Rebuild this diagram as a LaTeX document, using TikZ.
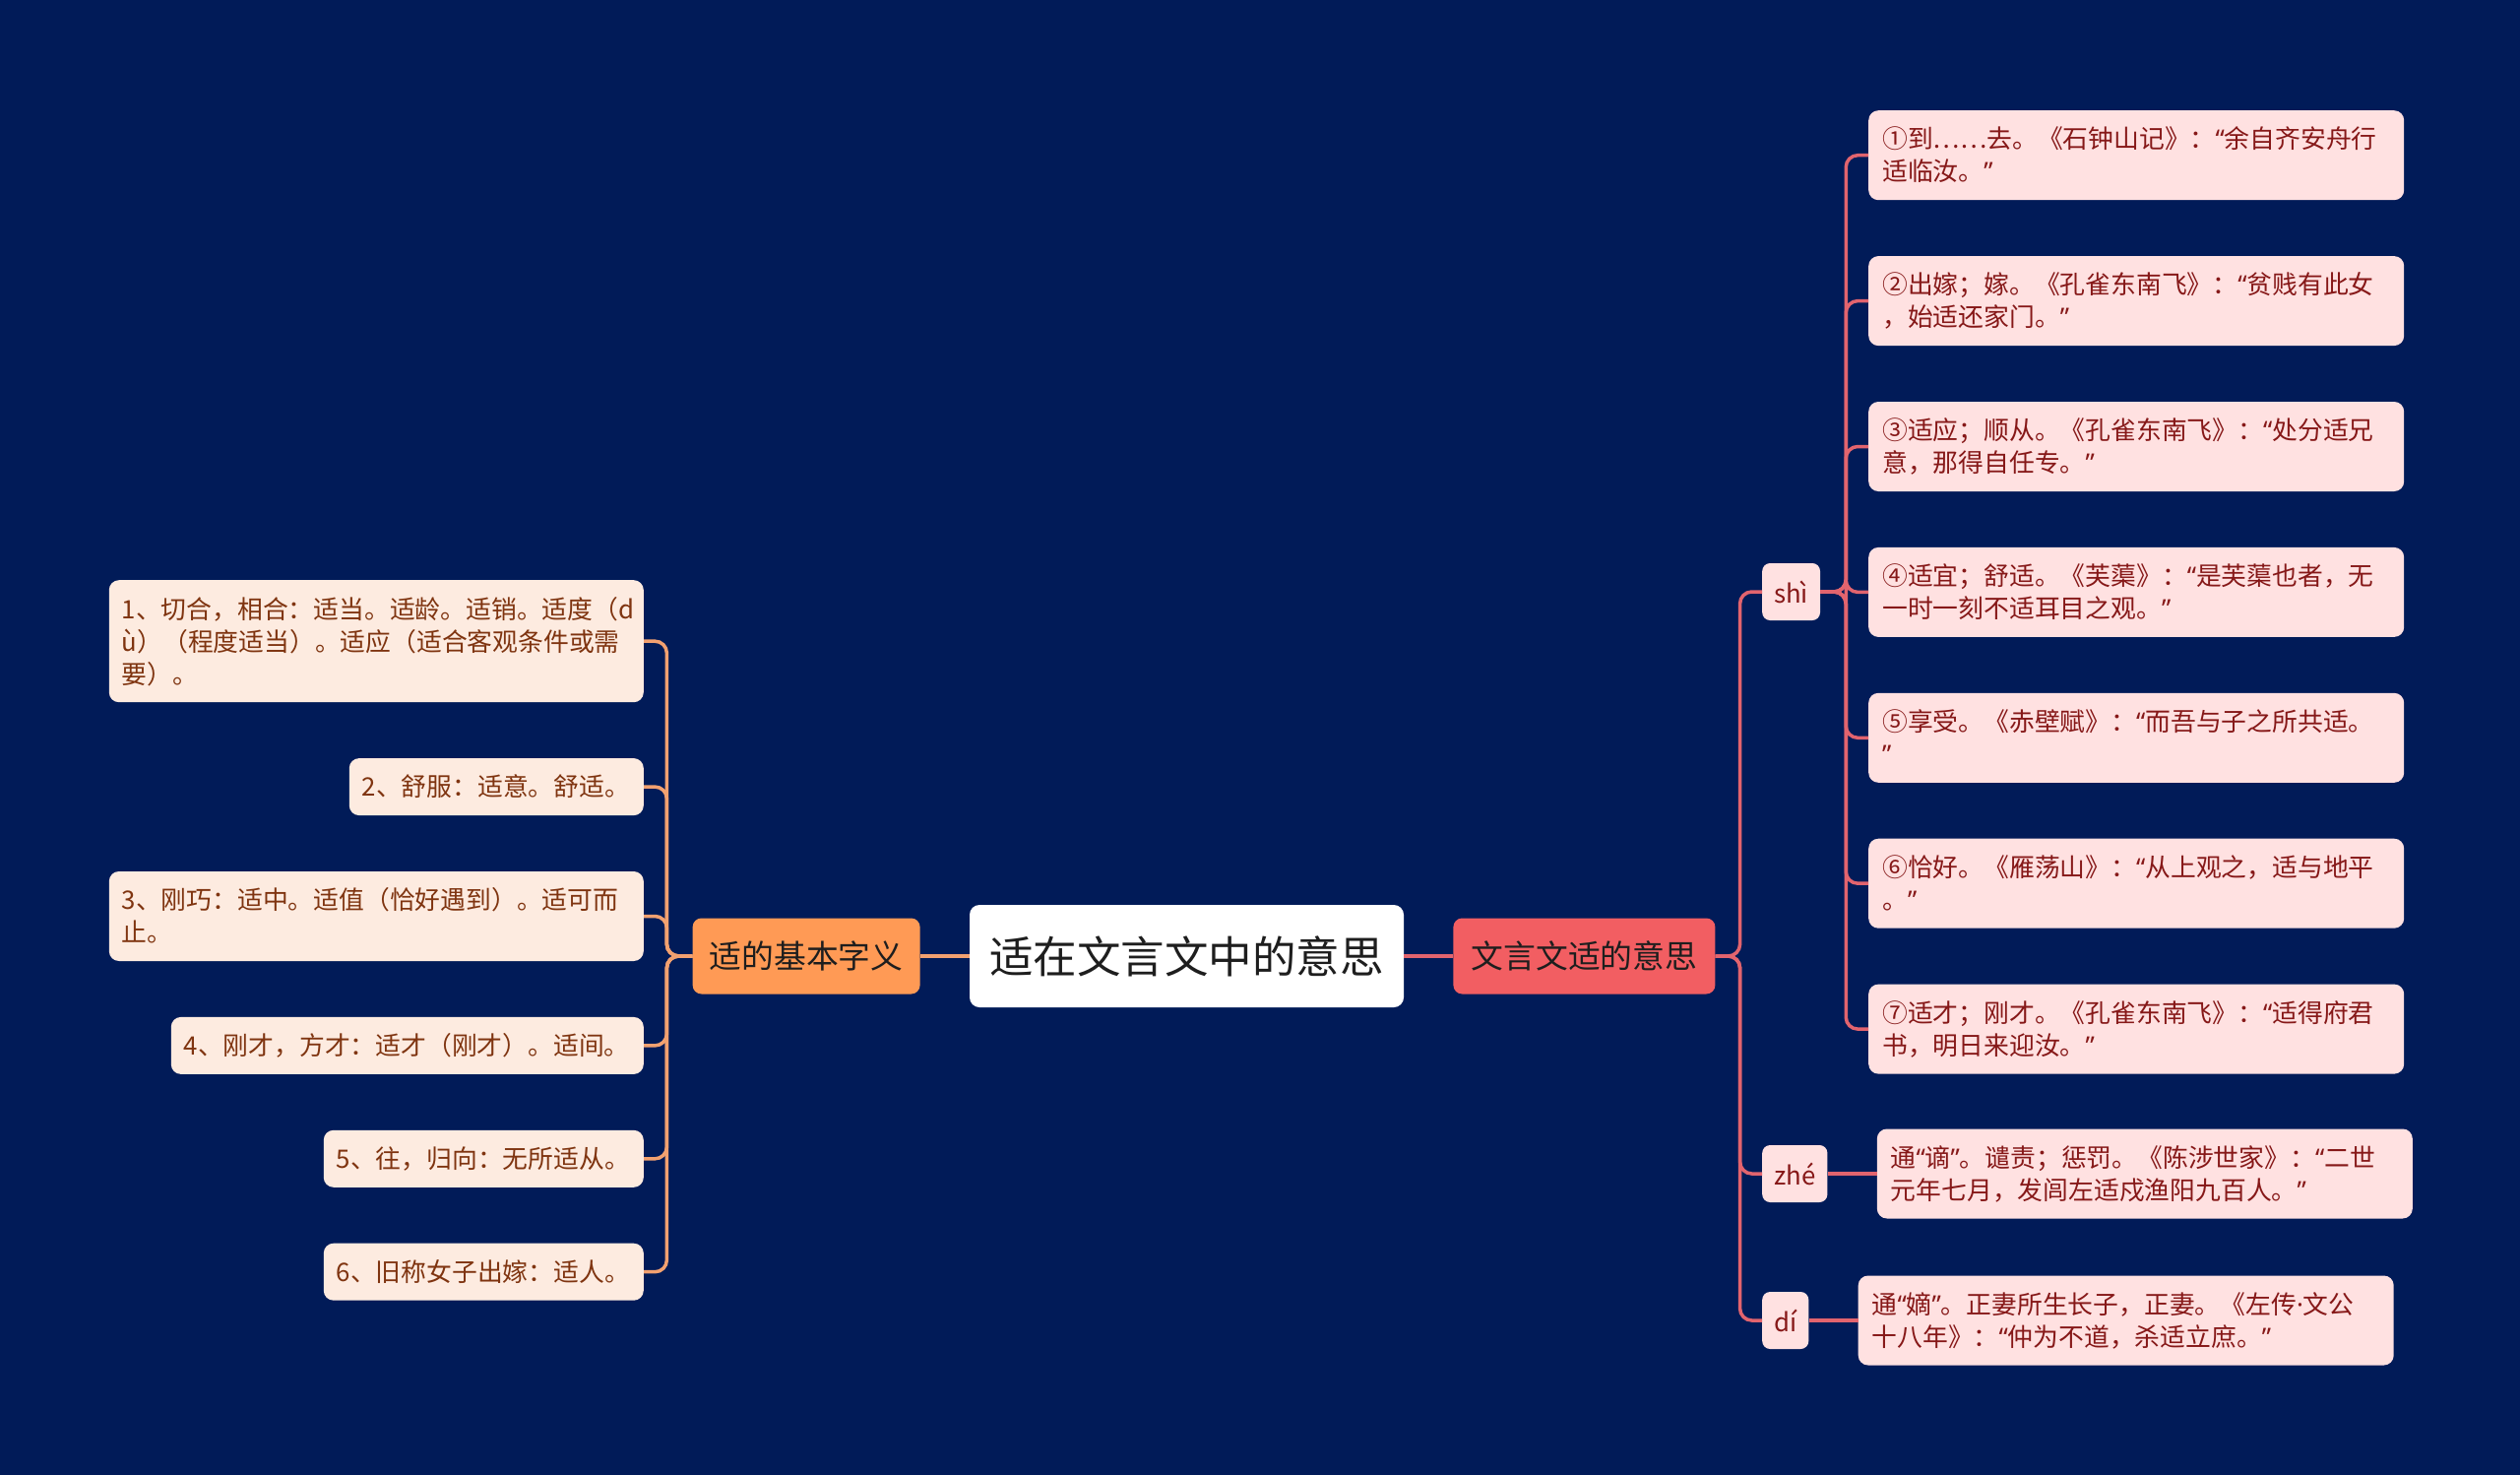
\documentclass[tikz,border=0pt]{standalone}
\usepackage{fontspec}
\newfontfamily\cjk{Noto Sans CJK SC}
\newfontfamily\latinq{Noto Sans}
\newcommand\qopen{{\latinq “}}
\newcommand\qclose{{\latinq ”}}
\newcommand\mdot{{\latinq ·}}
\newcommand\leafstrut{\rule[-6.7pt]{0pt}{33pt}}
\usepackage{tikz}
\usetikzlibrary{positioning}
\definecolor{navybg}{HTML}{011B58}
\definecolor{rootink}{HTML}{1E1E1E}
\definecolor{branchorange}{HTML}{FF9A55}
\definecolor{branchred}{HTML}{F25E62}
\definecolor{leafpeach}{HTML}{FDEBE0}
\definecolor{leafpink}{HTML}{FFE1E1}
\definecolor{inkbrown}{HTML}{7F3410}
\definecolor{inkred}{HTML}{861818}
\definecolor{linkorange}{HTML}{F2A170}
\definecolor{linkred}{HTML}{E2646E}

\begin{document}
\begin{tikzpicture}[x=1pt, y=-1pt,
  rootbox/.style={fill=white, rounded corners=10pt, font=\cjk\fontsize{44.5}{50}\selectfont,
                  text=rootink, minimum width=441pt, minimum height=104pt, inner sep=0pt},
  branch/.style={rounded corners=9pt, font=\cjk\fontsize{32.8}{40}\selectfont, text=rootink,
                 minimum height=77pt, inner sep=0pt},
  leaf/.style={rounded corners=10pt, font=\cjk\fontsize{25.8}{33}\selectfont, align=left,
               inner ysep=12.5pt, execute at begin node=\leafstrut, execute at end node=\leafstrut},
  leafl/.style={leaf, fill=leafpeach, text=inkbrown, inner xsep=13pt},
  leafr/.style={leaf, fill=leafpink, text=inkred, inner xsep=14pt, text width=516pt},
  pinyin/.style={fill=leafpink, text=inkred, rounded corners=8pt, font=\cjk\fontsize{25.8}{33}\selectfont,
                 inner xsep=12pt, inner ysep=0pt, minimum height=58pt},
  linkl/.style={draw=linkorange, line width=3.5pt, rounded corners=12pt},
  linkr/.style={draw=linkred, line width=3.5pt, rounded corners=12pt}]

  \fill[navybg] (0,0) rectangle (2560,1498);

  % centre and the two main branches
  \node[rootbox] (root) at (1205.5,971) {适在文言文中的意思};
  \node[branch, fill=branchorange, minimum width=231pt, left=50pt of root] (basic) {适的基本字义};
  \node[branch, fill=branchred, minimum width=266pt, right=50pt of root] (mean) {文言文适的意思};

  % left side: basic senses
  \node[leafl, text width=517pt, anchor=north east] (l1) at (654,589)
    {1、切合，相合：适当。适龄。适销。适度（d\\ù）（程度适当）。适应（适合客观条件或需\\要）。};
  \node[leafl, text width=273pt, below=56.5pt of l1.south east, anchor=north east] (l2)
    {2、舒服：适意。舒适。};
  \node[leafl, text width=517pt, below=56.5pt of l2.south east, anchor=north east] (l3)
    {3、刚巧：适中。适值（恰好遇到）。适可而\\止。};
  \node[leafl, text width=454pt, below=56.5pt of l3.south east, anchor=north east] (l4)
    {4、刚才，方才：适才（刚才）。适间。};
  \node[leafl, text width=299pt, below=56.5pt of l4.south east, anchor=north east] (l5)
    {5、往，归向：无所适从。};
  \node[leafl, text width=299pt, below=56.5pt of l5.south east, anchor=north east] (l6)
    {6、旧称女子出嫁：适人。};

  % right side: readings
  \node[pinyin, anchor=west] (shi) at (1790,601) {shì};
  \node[pinyin, anchor=west] (zhe) at (1790,1192) {zhé};
  \node[pinyin, anchor=west] (di) at (1790,1341) {dí};

  \node[leafr, anchor=north west] (r1) at (1898,112)
    {①到……去。《石钟山记》：\qopen 余自齐安舟行\\适临汝。\qclose};
  \node[leafr, below=56.5pt of r1.south west, anchor=north west] (r2)
    {②出嫁；嫁。《孔雀东南飞》：\qopen 贫贱有此女\\，始适还家门。\qclose};
  \node[leafr, below=56.5pt of r2.south west, anchor=north west] (r3)
    {③适应；顺从。《孔雀东南飞》：\qopen 处分适兄\\意，那得自任专。\qclose};
  \node[leafr, below=56.5pt of r3.south west, anchor=north west] (r4)
    {④适宜；舒适。《芙蕖》：\qopen 是芙蕖也者，无\\一时一刻不适耳目之观。\qclose};
  \node[leafr, below=56.5pt of r4.south west, anchor=north west] (r5)
    {⑤享受。《赤壁赋》：\qopen 而吾与子之所共适。\\\qclose};
  \node[leafr, below=56.5pt of r5.south west, anchor=north west] (r6)
    {⑥恰好。《雁荡山》：\qopen 从上观之，适与地平\\。\qclose};
  \node[leafr, below=56.5pt of r6.south west, anchor=north west] (r7)
    {⑦适才；刚才。《孔雀东南飞》：\qopen 适得府君\\书，明日来迎汝。\qclose};
  \node[leafr, right=50pt of zhe] (zheleaf)
    {通\qopen 谪\qclose 。谴责；惩罚。《陈涉世家》：\qopen 二世\\元年七月，发闾左适戍渔阳九百人。\qclose};
  \node[leafr, right=50pt of di] (dileaf)
    {通\qopen 嫡\qclose 。正妻所生长子，正妻。《左传\mdot 文公\\十八年》：\qopen 仲为不道，杀适立庶。\qclose};

  % connectors
  \draw[linkl] (basic) -- (root);
  \draw[linkr] (root) -- (mean);
  \foreach \n in {l1,l2,l3,l4,l5,l6}
    \draw[linkl] (basic.west) -- ++(-26pt,0pt) |- (\n.east);
  \foreach \n in {shi,zhe,di}
    \draw[linkr] (mean.east) -- ++(25pt,0pt) |- (\n.west);
  \foreach \n in {r1,r2,r3,r4,r5,r6,r7}
    \draw[linkr] (shi.east) -- ++(26pt,0pt) |- (\n.west);
  \draw[linkr] (zhe) -- (zheleaf);
  \draw[linkr] (di) -- (dileaf);
\end{tikzpicture}
\end{document}
